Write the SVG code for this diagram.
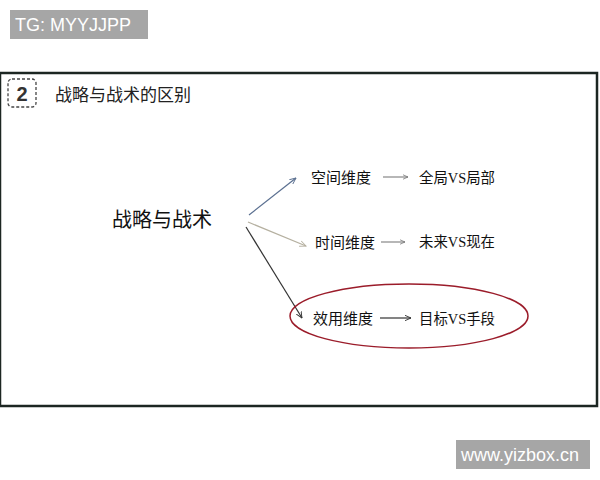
<svg xmlns="http://www.w3.org/2000/svg" width="600" height="480" viewBox="0 0 600 480">
<style>
.cn{font-family:"Liberation Serif","Noto Sans CJK SC",serif;fill:#111}
.badge{fill:#a6a6a6}
.bt{font-family:"Liberation Sans",Arial,sans-serif;fill:#fff;font-size:18px}
.item{font-size:15px}
.res{font-size:14.4px}
</style>
<defs>
<marker id="ah1" viewBox="0 0 10 10" refX="9" refY="5" markerWidth="7" markerHeight="7" orient="auto" markerUnits="userSpaceOnUse"><path d="M0,1 L9,5 L0,9" fill="none" stroke="#5a6f90" stroke-width="1.3"/></marker>
<marker id="ah2" viewBox="0 0 10 10" refX="9" refY="5" markerWidth="7" markerHeight="7" orient="auto" markerUnits="userSpaceOnUse"><path d="M0,1 L9,5 L0,9" fill="none" stroke="#b5b0a0" stroke-width="1.3"/></marker>
<marker id="ah3" viewBox="0 0 10 10" refX="9" refY="5" markerWidth="7" markerHeight="7" orient="auto" markerUnits="userSpaceOnUse"><path d="M0,1 L9,5 L0,9" fill="none" stroke="#333" stroke-width="1.3"/></marker>
<marker id="ah4" viewBox="0 0 10 10" refX="9" refY="5" markerWidth="6" markerHeight="6" orient="auto" markerUnits="userSpaceOnUse"><path d="M0,1 L9,5 L0,9" fill="none" stroke="#777" stroke-width="1.3"/></marker>
</defs>
<rect width="600" height="480" fill="#fff"/>
<g id="tg-badge">
<rect class="badge" x="10" y="10" width="138" height="29"/>
<text class="bt" x="15" y="31" font-size="17.5">TG: MYYJJPP</text>
</g>
<rect id="frame" x="0" y="73" width="597" height="333" fill="#fff" stroke="#1c2622" stroke-width="2.5"/>
<g id="title">
<rect x="8" y="79" width="28" height="28" rx="4" fill="none" stroke="#444" stroke-width="1.3" stroke-dasharray="3,2"/>
<text x="22" y="101" text-anchor="middle" font-family="Liberation Sans,Arial,sans-serif" font-weight="bold" font-size="20" fill="#333">2</text>
<text x="55" y="101" font-family="Liberation Sans,'Noto Sans CJK SC',sans-serif" font-size="17" fill="#222">战略与战术的区别</text>
</g>
<g id="center">
<text class="cn" x="112" y="227" font-size="20">战略与战术</text>
</g>
<g id="connectors" fill="none" stroke-width="1.2">
<line x1="249" y1="215" x2="296" y2="178" stroke="#5a6f90" marker-end="url(#ah1)"/>
<line x1="248" y1="222" x2="306" y2="246" stroke="#b5b0a0" marker-end="url(#ah2)"/>
<line x1="246" y1="227" x2="302" y2="318" stroke="#333" marker-end="url(#ah3)"/>
<line x1="383" y1="177" x2="408" y2="177" stroke="#888" marker-end="url(#ah4)"/>
<line x1="381" y1="242" x2="405" y2="242" stroke="#888" marker-end="url(#ah4)"/>
<line x1="380" y1="318" x2="411" y2="318" stroke="#333" marker-end="url(#ah3)"/>
</g>
<g id="space">
<text class="cn item" x="311" y="183">空间维度</text>
<text class="cn res" x="419" y="183">全局VS局部</text>
</g>
<g id="time">
<text class="cn item" x="315" y="248">时间维度</text>
<text class="cn res" x="419" y="247">未来VS现在</text>
</g>
<g id="utility">
<ellipse cx="409" cy="316" rx="119" ry="32" fill="none" stroke="#9b1c2a" stroke-width="1.5"/>
<text class="cn item" x="313" y="324">效用维度</text>
<text class="cn res" x="419" y="324">目标VS手段</text>
</g>
<g id="site-badge">
<rect class="badge" x="456" y="440" width="134" height="29"/>
<text class="bt" x="461" y="461">www.yizbox.cn</text>
</g>
</svg>
